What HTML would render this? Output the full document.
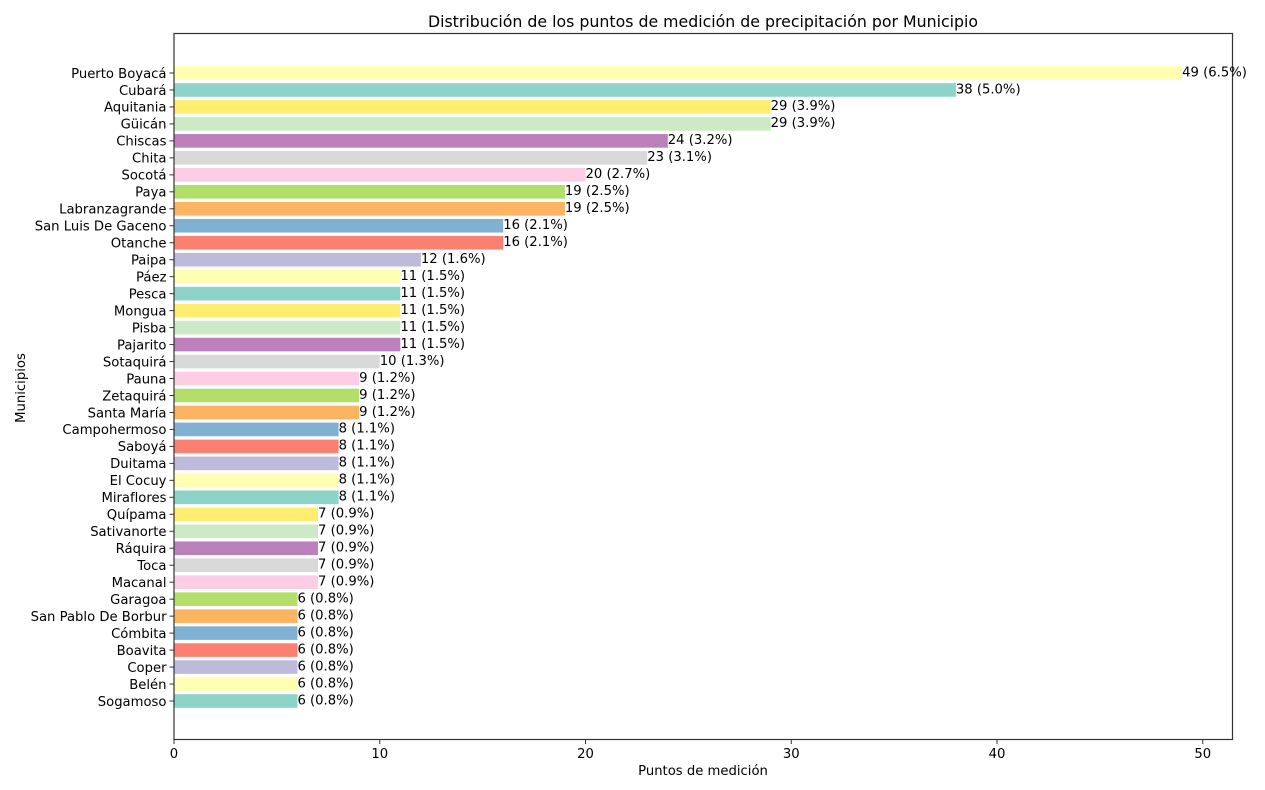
<!DOCTYPE html>
<html lang="es">
<head>
<meta charset="utf-8">
<title>Distribución de los puntos de medición de precipitación por Municipio</title>
<style>
html,body{margin:0;padding:0;background:#fff;width:1265px;height:790px;overflow:hidden}
svg{display:block;filter:blur(0.3px)}
text{font-family:"DejaVu Sans","Liberation Sans",sans-serif;fill:#000}
</style>
</head>
<body>
<svg id="chart" xmlns="http://www.w3.org/2000/svg" width="1265" height="790" viewBox="0 0 1265 790">
  <rect x="0" y="0" width="1265" height="790" fill="#ffffff"/>
  <text x="703" y="27" font-size="15.77" text-anchor="middle">Distribución de los puntos de medición de precipitación por Municipio</text>
  <text x="703" y="775" font-size="13.2" text-anchor="middle">Puntos de medición</text>
  <text transform="translate(25,388) rotate(-90)" font-size="13.2" text-anchor="middle">Municipios</text>
  <g id="bars"></g>
  <g id="yticks"></g>
  <g id="xticks"></g>
  <rect x="174" y="33.5" width="1058.5" height="706" fill="none" stroke="#333" stroke-width="1.2"/>
  <g id="values"></g>
</svg>
<script>
const categories = ["Puerto Boyacá","Cubará","Aquitania","Güicán","Chiscas","Chita","Socotá","Paya","Labranzagrande","San Luis De Gaceno","Otanche","Paipa","Páez","Pesca","Mongua","Pisba","Pajarito","Sotaquirá","Pauna","Zetaquirá","Santa María","Campohermoso","Saboyá","Duitama","El Cocuy","Miraflores","Quípama","Sativanorte","Ráquira","Toca","Macanal","Garagoa","San Pablo De Borbur","Cómbita","Boavita","Coper","Belén","Sogamoso"];
const counts = [49,38,29,29,24,23,20,19,19,16,16,12,11,11,11,11,11,10,9,9,9,8,8,8,8,8,7,7,7,7,7,6,6,6,6,6,6,6];
const percents = ["6.5","5.0","3.9","3.9","3.2","3.1","2.7","2.5","2.5","2.1","2.1","1.6","1.5","1.5","1.5","1.5","1.5","1.3","1.2","1.2","1.2","1.1","1.1","1.1","1.1","1.1","0.9","0.9","0.9","0.9","0.9","0.8","0.8","0.8","0.8","0.8","0.8","0.8"];
const xTicks = [0,10,20,30,40,50];
const palette = ["#8dd3c7","#ffffb3","#bebada","#fb8072","#80b1d3","#fdb462","#b3de69","#fccde5","#d9d9d9","#bc80bd","#ccebc5","#ffed6f"];

const NS = "http://www.w3.org/2000/svg";
const plotLeft = 174, unitPx = 20.575, firstY = 73, stepY = 16.973, barH = 13.6, plotBottom = 739.5;
const xScale = v => plotLeft + v * unitPx;
const yScale = i => firstY + i * stepY;
const make = (tag, parent) => {
  const el = document.createElementNS(NS, tag);
  document.getElementById(parent).appendChild(el);
  return el;
};

categories.forEach((name, i) => {
  const slug = name.toLowerCase().normalize("NFD").replace(/[\u0300-\u036f]/g, "").replace(/\s+/g, "-");
  const y = yScale(i);

  const bar = make("rect", "bars");
  
  
  bar.setAttribute("x", xScale(0));
  bar.setAttribute("y", y - barH / 2);
  bar.setAttribute("width", xScale(counts[i]) - xScale(0));
  bar.setAttribute("height", barH);
  bar.setAttribute("fill", palette[(categories.length - 1 - i) % palette.length]);

  const tick = make("line", "yticks");
  
  
  tick.setAttribute("x1", plotLeft - 4.5);
  tick.setAttribute("x2", plotLeft);
  tick.setAttribute("y1", y);
  tick.setAttribute("y2", y);
  tick.setAttribute("stroke", "#333");
  tick.setAttribute("stroke-width", "1");

  const label = make("text", "yticks");
  
  
  label.setAttribute("x", plotLeft - 7.5);
  label.setAttribute("y", y + 4.8);
  label.setAttribute("font-size", "13.2");
  label.setAttribute("text-anchor", "end");
  label.textContent = name;

  const value = make("text", "values");
  
  
  value.setAttribute("x", xScale(counts[i]));
  value.setAttribute("y", y + 3.3);
  value.setAttribute("font-size", "13.2");
  value.textContent = counts[i] + " (" + percents[i] + "%)";
});

xTicks.forEach(t => {
  const tick = make("line", "xticks");
  
  
  tick.setAttribute("x1", xScale(t));
  tick.setAttribute("x2", xScale(t));
  tick.setAttribute("y1", plotBottom);
  tick.setAttribute("y2", plotBottom + 4.5);
  tick.setAttribute("stroke", "#333");
  tick.setAttribute("stroke-width", "1");

  const label = make("text", "xticks");
  
  
  label.setAttribute("x", xScale(t));
  label.setAttribute("y", plotBottom + 18.5);
  label.setAttribute("font-size", "13.2");
  label.setAttribute("text-anchor", "middle");
  label.textContent = t;
});
</script>
</body>
</html>
